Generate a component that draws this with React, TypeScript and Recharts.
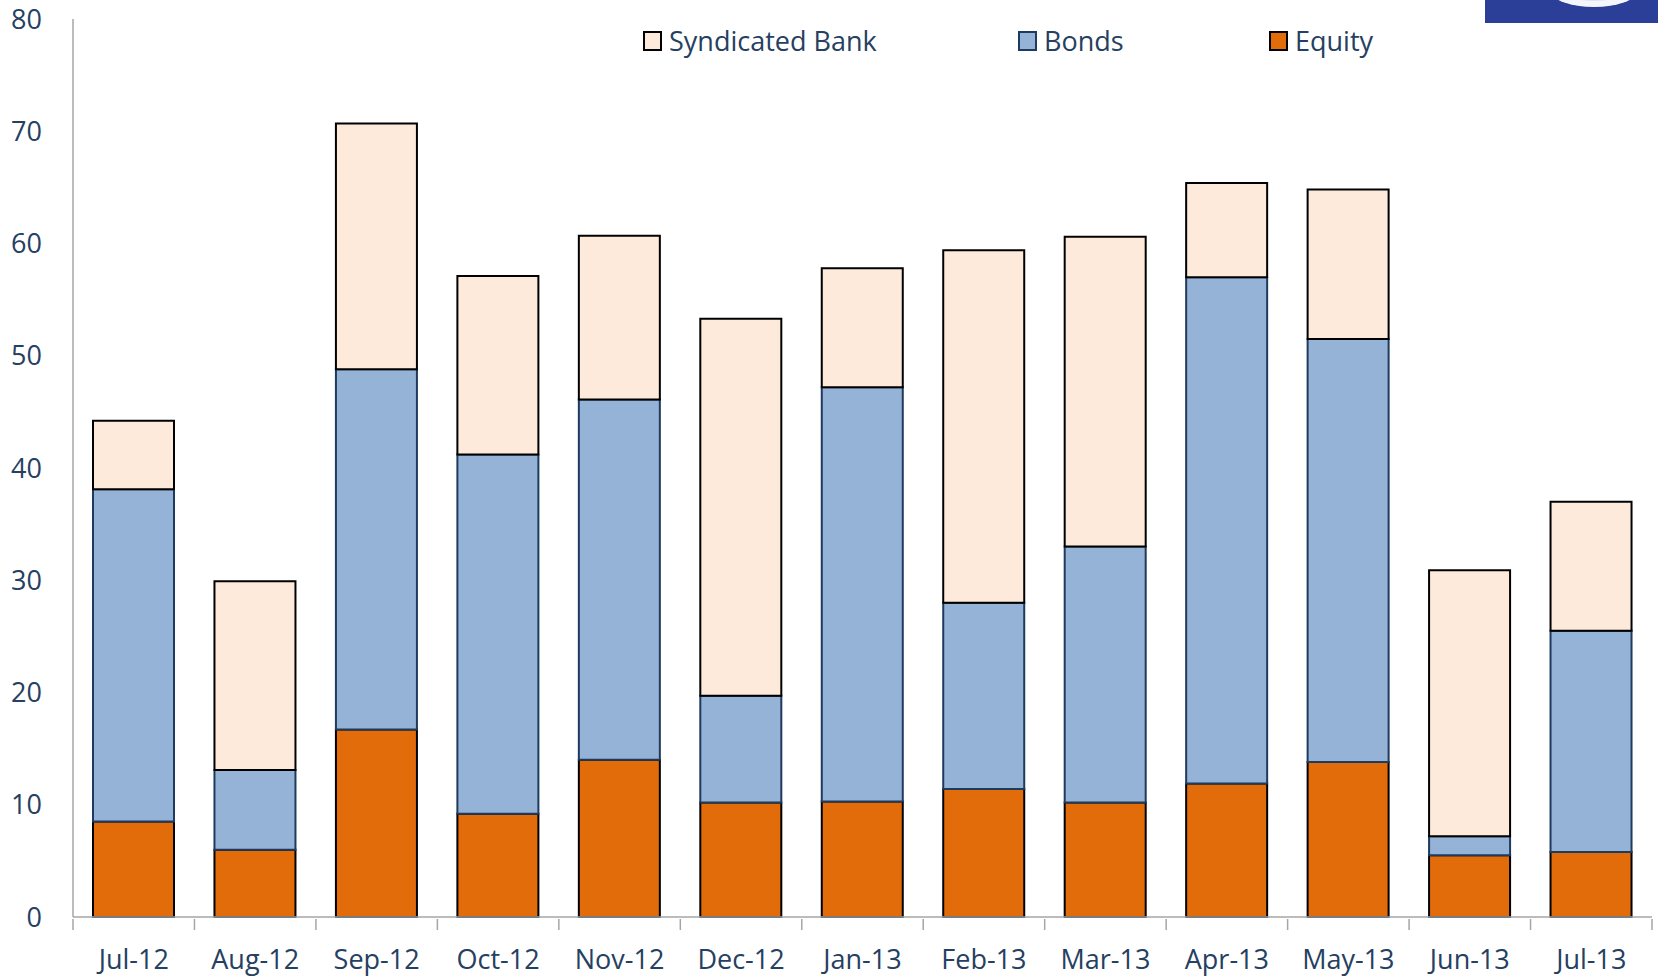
import { BarChart, Bar, XAxis, YAxis } from 'recharts'

const months = ['Jul-12', 'Aug-12', 'Sep-12', 'Oct-12', 'Nov-12', 'Dec-12', 'Jan-13', 'Feb-13', 'Mar-13', 'Apr-13', 'May-13', 'Jun-13', 'Jul-13']
const equity = [8.5, 6.0, 16.7, 9.2, 14.0, 10.2, 10.3, 11.4, 10.2, 11.9, 13.8, 5.5, 5.8]
const bonds = [29.6, 7.1, 32.1, 32.0, 32.1, 9.5, 36.9, 16.6, 22.8, 45.1, 37.7, 1.7, 19.7]
const syndicated = [6.1, 16.8, 21.9, 15.9, 14.6, 33.6, 10.6, 31.4, 27.6, 8.4, 13.3, 23.7, 11.5]
const yTicks = [0, 10, 20, 30, 40, 50, 60, 70, 80]

const W = 1658
const H = 976
const LEFT = 73
const RIGHT = 6
const STEP = (W - LEFT - RIGHT) / months.length
const TEXT = '#254061'
const FONT = '"Open Sans", sans-serif'
const AXIS = '#A6A6A6'

const data = months.map((m, i) => ({
  month: m,
  Equity: equity[i],
  Bonds: bonds[i],
  'Syndicated Bank': syndicated[i],
}))

const legendItems = [
  { name: 'Syndicated Bank', fill: '#FDEADA', stroke: '#000', left: 643 },
  { name: 'Bonds', fill: '#95B3D7', stroke: '#1F3A5F', left: 1018 },
  { name: 'Equity', fill: '#E36C0A', stroke: '#000', left: 1269 },
]

function MonthTick(props: any) {
  const { x, y, payload, index } = props
  const half = STEP / 2
  return (
    <g>
      <line x1={x - half} x2={x - half} y1={y} y2={y + 11} stroke={AXIS} strokeWidth={1.5} />
      {index === months.length - 1 && (
        <line x1={x + half} x2={x + half} y1={y} y2={y + 11} stroke={AXIS} strokeWidth={1.5} />
      )}
      <text x={x} y={y + 50} textAnchor="middle" fill={TEXT} fontSize={27} fontFamily={FONT}>
        {payload.value}
      </text>
    </g>
  )
}

function LegendBox() {
  return (
    <div style={{ position: 'absolute', left: 0, top: 0, width: W, height: 60, pointerEvents: 'none' }}>
      {legendItems.map(it => (
        <div
          key={it.name}
          style={{ position: 'absolute', left: it.left, top: 22, display: 'flex', alignItems: 'center' }}
        >
          <div
            style={{
              width: 15,
              height: 16,
              background: it.fill,
              border: `2px solid ${it.stroke}`,
              marginRight: 7,
            }}
          />
          <span style={{ fontFamily: FONT, fontSize: 27, color: TEXT, lineHeight: '38px' }}>{it.name}</span>
        </div>
      ))}
    </div>
  )
}

export default function App() {
  return (
    <div style={{ position: 'absolute', left: 0, top: 0, width: W, height: H, background: '#fff' }}>
      <BarChart width={W} height={H} data={data} margin={{ top: 19, right: RIGHT, bottom: 0, left: 0 }} barSize={81}>
        <XAxis
          dataKey="month"
          height={59}
          stroke={AXIS}
          strokeWidth={1.5}
          tickLine={false}
          tickSize={0}
          tick={<MonthTick />}
          interval={0}
        />
        <YAxis
          width={LEFT}
          domain={[0, 80]}
          ticks={yTicks}
          stroke={AXIS}
          strokeWidth={1.5}
          tickLine={false}
          tickSize={0}
          tickMargin={31}
          tick={{ fill: TEXT, fontSize: 27, fontFamily: FONT }}
        />
        <Bar dataKey="Equity" stackId="a" fill="#E36C0A" stroke="#000" strokeWidth={2} isAnimationActive={false} />
        <Bar dataKey="Bonds" stackId="a" fill="#95B3D7" stroke="#1F3A5F" strokeWidth={2} isAnimationActive={false} />
        <Bar dataKey="Syndicated Bank" stackId="a" fill="#FDEADA" stroke="#000" strokeWidth={2} isAnimationActive={false} />
      </BarChart>
      <LegendBox />
      <svg style={{ position: 'absolute', left: 1485, top: 0 }} width={173} height={23}>
        <rect x={0} y={0} width={173} height={23} fill="#2B3F99" />
        <ellipse cx={109} cy={-9} rx={43} ry={16} fill="#F4F6FB" />
        <ellipse cx={109} cy={-12} rx={36} ry={13} fill="#DDE3F2" />
      </svg>
    </div>
  )
}
